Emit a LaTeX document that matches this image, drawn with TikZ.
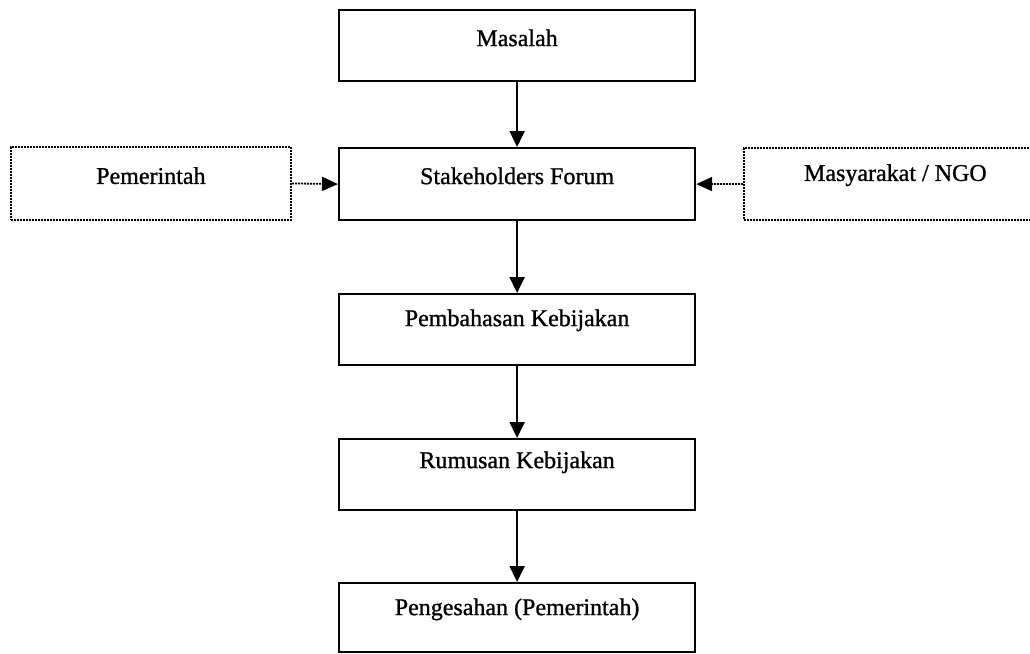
\documentclass[tikz,border=0pt]{standalone}
\usepackage{fontspec}
\setmainfont[FakeBold=1]{Liberation Serif}
\usetikzlibrary{arrows.meta}
\begin{document}
\begin{tikzpicture}[x=1pt,y=-1pt,
  box/.style={draw, line width=2.2pt, inner sep=0pt, anchor=north west,
    minimum width=356pt, font=\fontsize{24}{28}\selectfont},
  dotbox/.style={box, line width=1.8pt, dash pattern=on 2pt off 1pt},
  flow/.style={line width=2pt, -{Triangle[length=16pt,width=15pt]}},
  side/.style={line width=1.8pt, dash pattern=on 2pt off 1pt,
    -{Triangle[length=16pt,width=14pt]}}]
\useasboundingbox (0,0) rectangle (1030,653);
\node[box, text height=36pt, text depth=35pt] (mas) at (338,9) {Masalah};
\node[box, text height=36pt, text depth=36pt] (stk) at (338,147) {Stakeholders Forum};
\node[dotbox, minimum width=280pt, text height=37pt, text depth=36pt] (pem) at (10,146) {Pemerintah};
\node[dotbox, minimum width=303pt, text height=33pt, text depth=39pt] (ngo) at (743,147) {Masyarakat / NGO};
\node[box, text height=32pt, text depth=39pt] (bhs) at (338,293) {Pembahasan Kebijakan};
\node[box, text height=29pt, text depth=42pt] (rms) at (338,438) {Rumusan Kebijakan};
\node[box, text height=32pt, text depth=37pt] (pgs) at (338,582) {Pengesahan (Pemerintah)};
\draw[flow] (mas.south) -- (stk.north);
\draw[flow] (stk.south) -- (bhs.north);
\draw[flow] (bhs.south) -- (rms.north);
\draw[flow] (rms.south) -- (pgs.north);
\draw[side] (pem.east) -- (stk.west);
\draw[side] (ngo.west) -- (stk.east);
\end{tikzpicture}
\end{document}
